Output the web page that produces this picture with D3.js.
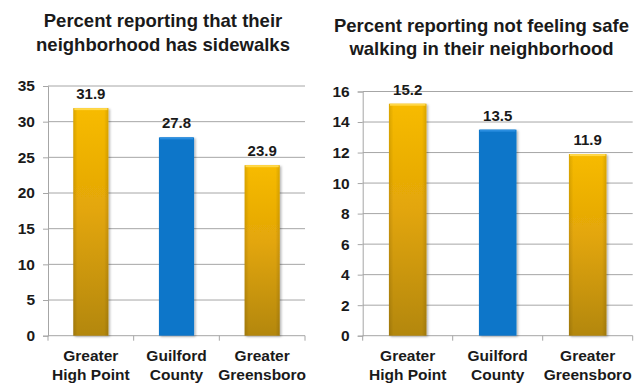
<!DOCTYPE html>
<html>
<head>
<meta charset="utf-8">
<script src="https://cdn.jsdelivr.net/npm/d3@7"></script>
<style>
  html, body { margin: 0; padding: 0; background: #ffffff; }
  svg { display: block; }
</style>
</head>
<body>
<svg id="chart" width="642" height="383"></svg>
<script>
// ---- Data ----
const categories = ["Greater High Point", "Guilford County", "Greater Greensboro"];
const categoryLines = [["Greater", "High Point"], ["Guilford", "County"], ["Greater", "Greensboro"]];
const sidewalkValues = [31.9, 27.8, 23.9];
const unsafeValues = [15.2, 13.5, 11.9];
const sidewalkTicks = [0, 5, 10, 15, 20, 25, 30, 35];
const unsafeTicks = [0, 2, 4, 6, 8, 10, 12, 14, 16];
const titleLeft = ["Percent reporting that their", "neighborhood has sidewalks"];
const titleRight = ["Percent reporting not feeling safe", "walking in their neighborhood"];
const barKinds = ["gold", "blue", "gold"];

const FONT = "'Liberation Sans', Arial, sans-serif";
const svg = d3.select("#chart");
const defs = svg.append("defs");

const gold = defs.append("linearGradient").attr("id", "goldGrad")
  .attr("x1", 0).attr("y1", 0).attr("x2", 0).attr("y2", 1);
gold.append("stop").attr("offset", "0%").attr("stop-color", "#f7bb00");
gold.append("stop").attr("offset", "45%").attr("stop-color", "#e3a608");
gold.append("stop").attr("offset", "100%").attr("stop-color", "#b3870f");

const goldSide = defs.append("linearGradient").attr("id", "goldSide")
  .attr("x1", 0).attr("y1", 0).attr("x2", 1).attr("y2", 0);
goldSide.append("stop").attr("offset", "0%").attr("stop-color", "#000").attr("stop-opacity", 0.12);
goldSide.append("stop").attr("offset", "12%").attr("stop-color", "#000").attr("stop-opacity", 0);
goldSide.append("stop").attr("offset", "88%").attr("stop-color", "#000").attr("stop-opacity", 0);
goldSide.append("stop").attr("offset", "100%").attr("stop-color", "#000").attr("stop-opacity", 0.12);

const shadow = defs.append("filter").attr("id", "shadow")
  .attr("x", "-20%").attr("y", "-10%").attr("width", "150%").attr("height", "130%");
shadow.append("feDropShadow").attr("dx", 1.5).attr("dy", 1).attr("stdDeviation", 1.2)
  .attr("flood-color", "#000").attr("flood-opacity", 0.3);

function drawChart(cfg) {
  const g = svg.append("g");
  const x = d3.scaleBand().domain(categories).range([cfg.left, cfg.right])
    .paddingInner(cfg.pad).paddingOuter(cfg.pad / 2);
  const y = d3.scaleLinear().domain([0, cfg.max]).range([cfg.bottom, cfg.top]);

  // gridlines
  g.append("g").selectAll("line").data(cfg.ticks.filter(t => t > 0)).join("line")
    .attr("x1", cfg.left).attr("x2", cfg.right)
    .attr("y1", d => y(d)).attr("y2", d => y(d))
    .attr("stroke", "#a6a6a6").attr("stroke-width", 1);

  // y axis
  const yAxis = g.append("g").attr("transform", `translate(${cfg.left},0)`)
    .call(d3.axisLeft(y).tickValues(cfg.ticks).tickSize(5).tickPadding(8).tickFormat(d3.format("d")));
  yAxis.attr("font-family", FONT);
  yAxis.select(".domain").attr("stroke", "#a6a6a6");
  yAxis.selectAll(".tick line").attr("stroke", "#a6a6a6");
  yAxis.selectAll("text").attr("font-family", FONT).attr("font-weight", "bold")
    .style("font-size", cfg.tickFont + "px").attr("fill", "#1a1a1a");

  // x axis: ticks at category boundaries
  const bounds = [cfg.left, ...categories.slice(1).map(c => x(c) - x.step() * x.paddingInner() / 2), cfg.right];
  const xg = g.append("g");
  xg.append("line").attr("x1", cfg.left).attr("x2", cfg.right)
    .attr("y1", cfg.bottom).attr("y2", cfg.bottom).attr("stroke", "#a6a6a6");
  xg.selectAll("line.tk").data(bounds).join("line").attr("class", "tk")
    .attr("x1", d => d).attr("x2", d => d)
    .attr("y1", cfg.bottom).attr("y2", cfg.bottom + 5).attr("stroke", "#a6a6a6");

  // bars
  const bars = g.append("g").selectAll("g").data(cfg.values).join("g");
  bars.append("rect")
    .attr("x", (d, i) => x(categories[i])).attr("width", x.bandwidth())
    .attr("y", d => y(d)).attr("height", d => y(0) - y(d))
    .attr("fill", (d, i) => barKinds[i] === "gold" ? "url(#goldGrad)" : "#0b76c9")
    .attr("filter", "url(#shadow)");
  bars.filter((d, i) => barKinds[i] === "gold").append("rect")
    .attr("x", (d) => x(categories[cfg.values.indexOf(d)])).attr("width", x.bandwidth())
    .attr("y", d => y(d)).attr("height", d => y(0) - y(d))
    .attr("fill", "url(#goldSide)");
  // top bevel highlight
  bars.append("rect")
    .attr("x", (d, i) => x(categories[i]) + 1).attr("width", x.bandwidth() - 2)
    .attr("y", d => y(d)).attr("height", 2)
    .attr("fill", (d, i) => barKinds[i] === "gold" ? "#ffd84a" : "#2a8ee0");

  // value labels
  g.append("g").selectAll("text").data(cfg.values).join("text")
    .attr("x", (d, i) => x(categories[i]) + x.bandwidth() / 2)
    .attr("y", d => y(d) - cfg.labelGap)
    .attr("text-anchor", "middle")
    .attr("font-family", FONT).attr("font-weight", "bold").attr("fill", "#1a1a1a")
    .style("font-size", cfg.valueFont + "px")
    .text(d => d3.format(".1f")(d));

  // category labels
  const cl = g.append("g").selectAll("text").data(categoryLines).join("text")
    .attr("x", (d, i) => x(categories[i]) + x.bandwidth() / 2)
    .attr("y", cfg.bottom + 25)
    .attr("text-anchor", "middle")
    .attr("font-family", FONT).attr("font-weight", "bold").attr("fill", "#1a1a1a")
    .style("font-size", cfg.catFont + "px");
  cl.selectAll("tspan").data(d => d).join("tspan")
    .attr("x", function() { return d3.select(this.parentNode).attr("x"); })
    .attr("dy", (d, j) => j === 0 ? 0 : 19)
    .text(d => d);

  // title
  const t = g.append("text").attr("x", cfg.titleX).attr("y", cfg.titleY)
    .attr("text-anchor", "middle")
    .attr("font-family", FONT).attr("font-weight", "bold").attr("fill", "#1a1a1a")
    .style("font-size", cfg.titleFont + "px");
  t.selectAll("tspan").data(cfg.title).join("tspan")
    .attr("x", cfg.titleX).attr("dy", (d, j) => j === 0 ? 0 : cfg.titleLH)
    .text(d => d);
}

drawChart({
  left: 48, right: 305, top: 86, bottom: 335.7, max: 35, pad: 0.59,
  values: sidewalkValues, ticks: sidewalkTicks, title: titleLeft,
  titleX: 163, titleY: 27, titleLH: 24, titleFont: 18.5,
  tickFont: 15.5, valueFont: 15, catFont: 15.5, labelGap: 9
});
drawChart({
  left: 362.7, right: 632.7, top: 91.5, bottom: 335.7, max: 16, pad: 0.583,
  values: unsafeValues, ticks: unsafeTicks, title: titleRight,
  titleX: 481.5, titleY: 32, titleLH: 23, titleFont: 18.5,
  tickFont: 15.5, valueFont: 15, catFont: 15.5, labelGap: 9
});
</script>
</body>
</html>
